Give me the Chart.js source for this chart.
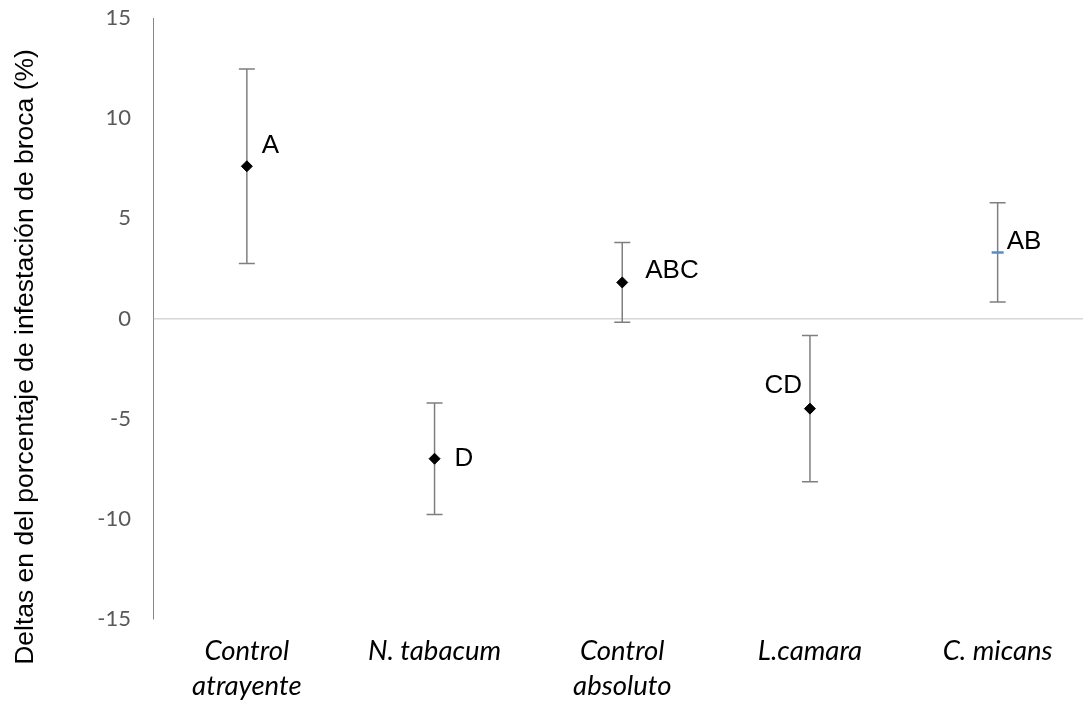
<!DOCTYPE html>
<html>
<head>
<meta charset="utf-8">
<script src="https://cdn.jsdelivr.net/npm/chart.js@4/dist/chart.umd.min.js"></script>
<style>
  html, body { margin: 0; padding: 0; background: #ffffff; overflow: hidden; }
  #wrap { position: relative; width: 1100px; height: 704px; }
</style>
</head>
<body>
<div id="wrap"><canvas id="chart"></canvas></div>
<script>
// Treatments on the x axis
const categories = [['Control', 'atrayente'], 'N. tabacum', ['Control', 'absoluto'], 'L.camara', 'C. micans'];
// Mean change in infestation (%) per treatment
const means = [7.6, -7.0, 1.8, -4.5, 3.3];
// Half-length of each error bar
const errors = [4.86, 2.78, 1.99, 3.65, 2.48];
// Significance groups
const letters = ['A', 'D', 'ABC', 'CD', 'AB'];
// Y axis range and step
const yTicks = [-15, -10, -5, 0, 5, 10, 15];

const yTitle = 'Deltas en del porcentaje de infestación de broca (%)';

// Where each group letter sits relative to its point (px)
const letterPlacement = [
  { dx: 15, dy: -20, align: 'left' },
  { dx: 20, dy: 0, align: 'left' },
  { dx: 23, dy: -12, align: 'left' },
  { dx: -8, dy: -23, align: 'right' },
  { dx: 9, dy: -11, align: 'left' }
];

const errorBarPlugin = {
  id: 'errorBars',
  beforeDatasetsDraw(chart) {
    const { ctx, scales: { x, y } } = chart;
    ctx.save();
    ctx.strokeStyle = '#7f7f7f';
    ctx.lineWidth = 1.5;
    means.forEach((m, i) => {
      const px = x.getPixelForValue(i);
      const top = y.getPixelForValue(m + errors[i]);
      const bot = y.getPixelForValue(m - errors[i]);
      ctx.beginPath();
      ctx.moveTo(px, top); ctx.lineTo(px, bot);
      ctx.moveTo(px - 8, top); ctx.lineTo(px + 8, top);
      ctx.moveTo(px - 8, bot); ctx.lineTo(px + 8, bot);
      ctx.stroke();
    });
    ctx.restore();
  }
};

const lettersPlugin = {
  id: 'groupLetters',
  afterDatasetsDraw(chart) {
    const { ctx, scales: { x, y } } = chart;
    ctx.save();
    ctx.font = '26px "Liberation Sans", Arial, sans-serif';
    ctx.fillStyle = '#000000';
    ctx.textBaseline = 'middle';
    letters.forEach((t, i) => {
      const p = letterPlacement[i];
      ctx.textAlign = p.align;
      ctx.fillText(t, x.getPixelForValue(i) + p.dx, y.getPixelForValue(means[i]) + p.dy);
    });
    ctx.restore();
  }
};

const yTitlePlugin = {
  id: 'yTitle',
  afterDraw(chart) {
    const { ctx } = chart;
    ctx.save();
    ctx.translate(33, 357);
    ctx.rotate(-Math.PI / 2);
    ctx.font = '26.5px "Liberation Sans", Arial, sans-serif';
    ctx.fillStyle = '#000000';
    ctx.textAlign = 'center';
    ctx.textBaseline = 'alphabetic';
    ctx.fillText(yTitle, 0, 0);
    ctx.restore();
  }
};

new Chart(document.getElementById('chart'), {
  type: 'line',
  data: {
    labels: categories,
    datasets: [{
      data: means,
      showLine: false,
      pointStyle: ['rectRot', 'rectRot', 'rectRot', 'rectRot', 'line'],
      pointRadius: [5.5, 5.5, 5.5, 5.5, 6],
      pointBackgroundColor: ['#000', '#000', '#000', '#000', '#5b8bc4'],
      pointBorderColor: ['#000', '#000', '#000', '#000', '#5b8bc4'],
      pointBorderWidth: [1, 1, 1, 1, 2.5],
      pointHoverRadius: 5.5
    }]
  },
  options: {
    responsive: true,
    maintainAspectRatio: false,
    animation: false,
    layout: { padding: { left: 0, right: 7, top: 18, bottom: 0 } },
    plugins: { legend: { display: false }, tooltip: { enabled: false } },
    scales: {
      x: {
        type: 'category',
        offset: true,
        grid: { display: false, drawTicks: false },
        border: { display: false },
        ticks: {
          color: '#000000',
          padding: 15,
          maxRotation: 0,
          autoSkip: false,
          font: { family: 'Lato', style: 'italic', size: 27.5, lineHeight: 1.27 }
        },
        afterFit(scale) {
          scale.height = 85;
          scale.paddingTop = 0; scale.paddingBottom = 0;
          scale.paddingLeft = 0; scale.paddingRight = 0;
        }
      },
      y: {
        min: yTicks[0],
        max: yTicks[yTicks.length - 1],
        afterBuildTicks(scale) { scale.ticks = yTicks.map(v => ({ value: v })); },
        grid: {
          drawTicks: false,
          color: ctx => (ctx.tick && ctx.tick.value === 0 ? '#d6d6d6' : 'rgba(0,0,0,0)'),
          lineWidth: 1.5
        },
        border: { display: true, color: '#868686', width: 1 },
        ticks: {
          color: '#595959',
          padding: 22,
          font: { family: 'Lato', size: 22 }
        },
        afterFit(scale) {
          scale.width = 153;
          scale.paddingTop = 0; scale.paddingBottom = 0;
        }
      }
    }
  },
  plugins: [errorBarPlugin, lettersPlugin, yTitlePlugin]
});
</script>
</body>
</html>
